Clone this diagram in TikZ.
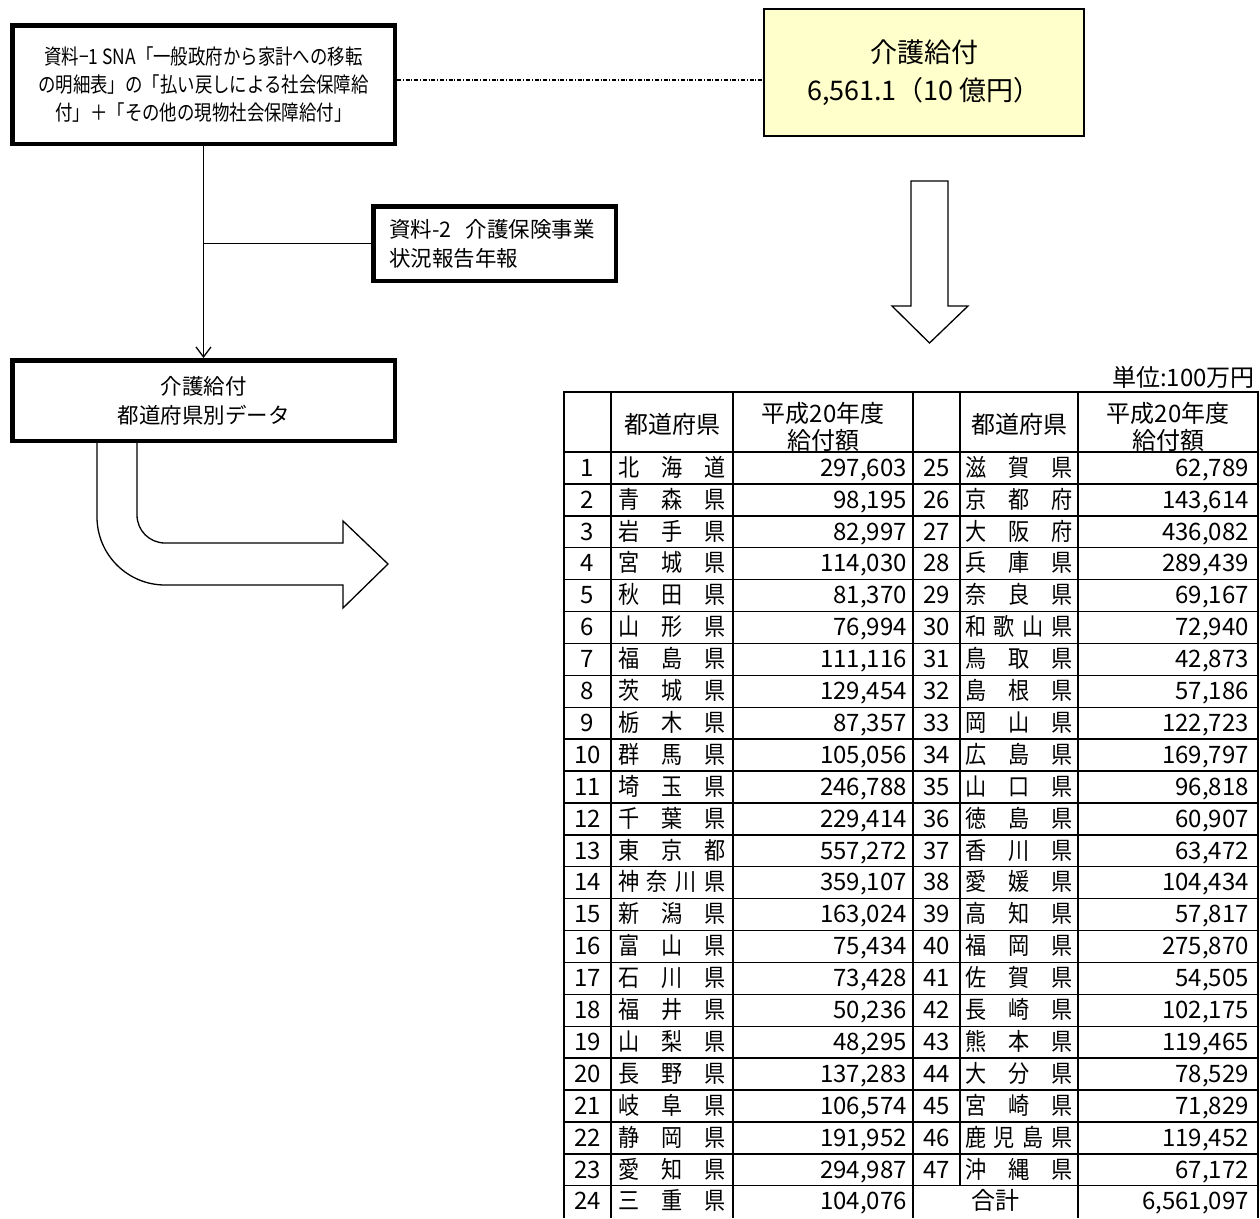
\documentclass[tikz,border=0pt]{standalone}
\usepackage{fontspec}
\setmainfont{Noto Sans CJK JP}
\newfontfamily\srcfont[FakeStretch=0.83]{Noto Sans CJK JP}
\newfontfamily\tabfont[FakeStretch=0.88]{Noto Sans CJK JP}
\usetikzlibrary{arrows.meta}

% 都道府県名を均等割り付け
\def\kspread#1#2{#1\ifx#2\relax\else\hfill\expandafter\kspread\fi#2}
\newcommand\kname[1]{\makebox[108pt]{\tabfont\expandafter\kspread#1\relax}}

\begin{document}
\begin{tikzpicture}[
    x=1pt, y=-1pt,
    srcbox/.style={
        draw,
        line width=4.5pt,
        fill=white,
        font=\fontsize{21.5}{29}\selectfont
    },
    hcell/.style={
        inner sep=0pt,
        font=\fontsize{24}{27}\selectfont
    },
    cell/.style={
        hcell,
        text height=20pt,
        text depth=3.5pt
    },
    rule/.style={line width=1.4pt}
]

% 色定義
\definecolor{kyellow}{RGB}{255,255,204}

\useasboundingbox (0,0) rectangle (1260,1218);

% 資料ボックス
\node[srcbox, minimum width=382.5pt, minimum height=118.5pt, align=center,
      font=\srcfont\fontsize{21}{28}\selectfont] (src1) at (203.5,84.5)
    {資料−1 SNA「一般政府から家計への移転\\の明細表」の「払い戻しによる社会保障給\\付」＋「その他の現物社会保障給付」};

\node[srcbox, minimum height=74.5pt, text width=211pt, inner xsep=15.75pt, align=left] (src2) at (494.5,243.5)
    {資料-2\ \ 介護保険事業\\状況報告年報};

\node[srcbox, minimum width=382.5pt, minimum height=80.5pt, align=center] (pref) at (203.5,400.5)
    {介護給付\\都道府県別データ};

\node[draw, line width=1.8pt, fill=kyellow, minimum width=320pt, minimum height=127pt,
      align=center, font=\fontsize{27}{38}\selectfont] (total) at (924,72.5)
    {介護給付\\6,561.1（10 億円）};

% 接続線
\draw[line width=1.3pt, -{Straight Barb[length=10pt,width=15pt]}] (src1) -- (pref);
\coordinate (tap) at (src1.south |- src2.west);
\draw[line width=1.3pt] (tap) -- (src2);
\draw[line width=1.2pt, dash pattern=on 4pt off 1.8pt on 1pt off 1.8pt]
    ([yshift=4.5pt]src1.east) -- ([yshift=4.5pt]src1.east -| total.west);

% 白抜き矢印
\draw[line width=1.3pt, fill=white] (911,181) -- (948,181) -- (948,306) -- (968,306)
    -- (929.5,343) -- (892,306) -- (911,306) -- cycle;
\draw[line width=1.3pt, fill=white] (137,443) -- (137,515) .. controls (137,530.5) and (149.5,543) .. (165,543)
    -- (343,543) -- (343,521) -- (388,564) -- (343,608) -- (343,585) -- (165,585)
    .. controls (127.5,585) and (97,554.5) .. (97,517) -- (97,443);

% 表の罫線
\foreach \k in {1,...,23}
    \draw[rule] (564,{452+\k*31.9}) -- (1258,{452+\k*31.9});
\draw[rule] (564,452) -- (1258,452);
\foreach \x in {733,913,1078}
    \draw[rule] (\x,392) -- (\x,1218);
\draw[line width=2pt] (611,392) -- (611,1218);
\draw[line width=2pt] (960,392) -- (960,1185.7);
\draw[line width=2.2pt] (564,1218) -- (564,392) -- (1258,392) -- (1258,1218);

% 見出し
\node[hcell, anchor=east] (unit) at (1255,377) {単位:100万円};
\node[hcell] (h-pref1) at (672,424) {都道府県};
\node[hcell, align=center] (h-amt1) at (823,426.5) {平成20年度\\給付額};
\node[hcell] (h-pref2) at (1019,424) {都道府県};
\node[hcell, align=center] (h-amt2) at (1168,426.5) {平成20年度\\給付額};

% データ
\foreach \pa/\va/\pb/\vb [count=\r] in {
    北海道/{297,603}/滋賀県/{62,789},
    青森県/{98,195}/京都府/{143,614},
    岩手県/{82,997}/大阪府/{436,082},
    宮城県/{114,030}/兵庫県/{289,439},
    秋田県/{81,370}/奈良県/{69,167},
    山形県/{76,994}/和歌山県/{72,940},
    福島県/{111,116}/鳥取県/{42,873},
    茨城県/{129,454}/島根県/{57,186},
    栃木県/{87,357}/岡山県/{122,723},
    群馬県/{105,056}/広島県/{169,797},
    埼玉県/{246,788}/山口県/{96,818},
    千葉県/{229,414}/徳島県/{60,907},
    東京都/{557,272}/香川県/{63,472},
    神奈川県/{359,107}/愛媛県/{104,434},
    新潟県/{163,024}/高知県/{57,817},
    富山県/{75,434}/福岡県/{275,870},
    石川県/{73,428}/佐賀県/{54,505},
    福井県/{50,236}/長崎県/{102,175},
    山梨県/{48,295}/熊本県/{119,465},
    長野県/{137,283}/大分県/{78,529},
    岐阜県/{106,574}/宮崎県/{71,829},
    静岡県/{191,952}/鹿児島県/{119,452},
    愛知県/{294,987}/沖縄県/{67,172}}{
    \pgfmathtruncatemacro\rb{\r+24}
    \pgfmathsetmacro\yy{452+(\r-0.5)*31.9}
    \node[cell] (no-\r) at (587.5,\yy) {\r};
    \node[cell] (pf-\r) at (672,\yy) {\kname\pa};
    \node[cell, anchor=east] (amt-\r) at (907,\yy) {\va};
    \node[cell] (no-\rb) at (936.5,\yy) {\rb};
    \node[cell] (pf-\rb) at (1019,\yy) {\kname\pb};
    \node[cell, anchor=east] (amt-\rb) at (1249,\yy) {\vb};
}

% 最終行
\node[cell] (no-24) at (587.5,1201.7) {24};
\node[cell] (pf-24) at (672,1201.7) {\kname{三重県}};
\node[cell, anchor=east] (amt-24) at (907,1201.7) {104,076};
\node[cell] (sum) at (995.5,1201.7) {合計};
\node[cell, anchor=east] (amt-sum) at (1249,1201.7) {6,561,097};

\end{tikzpicture}
\end{document}
